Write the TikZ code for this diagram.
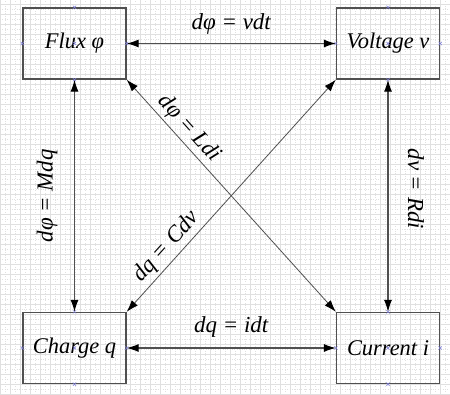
\documentclass[tikz,border=0pt]{standalone}
\usepackage{fontspec}
\setmainfont{Liberation Serif}
\usetikzlibrary{arrows.meta,positioning,calc}
\definecolor{cLine}{RGB}{80,80,80}
\definecolor{cGrid}{RGB}{224,224,224}
\definecolor{cPin}{RGB}{125,125,215}
\tikzset{
  qty/.style ={draw=cLine,line width=1.3bp,minimum width=103bp,minimum height=71bp,
               inner sep=0pt,font=\fontsize{22.5}{26}\selectfont\itshape},
  rel/.style ={{Latex[length=12bp,width=8bp,black]}-{Latex[length=12bp,width=8bp,black]},
               draw=cLine,line width=1.1bp},
  reld/.style={rel,line width=0.8bp},
  eq/.style  ={font=\fontsize{23}{26}\selectfont\itshape,inner sep=2bp},
  pin/.style ={draw=cPin,line width=0.5bp},
}
\begin{document}
\begin{tikzpicture}[x=1bp,y=1bp]
\useasboundingbox (0,0) rectangle (450,394);

%% ================= graph paper ==========================================
\fill[white] (0,0) rectangle (450,394);
\draw[cGrid,line width=0.4bp] (0,0) grid[step=10bp] (450,394);
\draw[cGrid,line width=0.4bp,dotted,shift={(5bp,5bp)}] (-5,-5) grid[step=10bp] (445,389);

%% ================= the four quantities ==================================
\node[qty] (flux) at (74.5,350.5) {Flux φ};
\node[qty] (volt) at (388,350.5)  {Voltage v};
\node[qty] (chrg) at (74.5,46)    {Charge q};
\node[qty] (curr) at (388,46)     {Current i};

%% ================= relations ============================================
\draw[rel] (flux.east) -- (volt.west)
  node[midway,above=7bp,eq] {dφ = vdt};
\draw[rel] (chrg.east) -- (curr.west)
  node[midway,above=8bp,eq] {dq = idt};
\draw[rel] (chrg.north) -- (flux.south)
  node[midway,eq,rotate=90,anchor=south,outer sep=15bp] {dφ = Mdq};
\draw[rel] (volt.south) -- (curr.north)
  node[pos=0.47,eq,rotate=-90,anchor=south,outer sep=18bp] {dv = Rdi};
% diagonals are drawn thinner
\draw[reld] (flux.south east) -- (curr.north west)
  node[pos=0.25,sloped,above=1bp,eq] {dφ = Ldi};
\draw[reld] (chrg.north east) -- (volt.south west)
  node[pos=0.24,sloped,above=1bp,eq] {dq = Cdv};

%% ================= connection points ====================================
\foreach \b in {flux,volt,chrg,curr}
  \foreach \a in {north,south,east,west,center}
    \draw[pin] ($(\b.\a)+(-1.6,-1.6)$) -- ++(3.2,3.2)
               ($(\b.\a)+(-1.6,1.6)$) -- ++(3.2,-3.2);

\end{tikzpicture}
\end{document}
